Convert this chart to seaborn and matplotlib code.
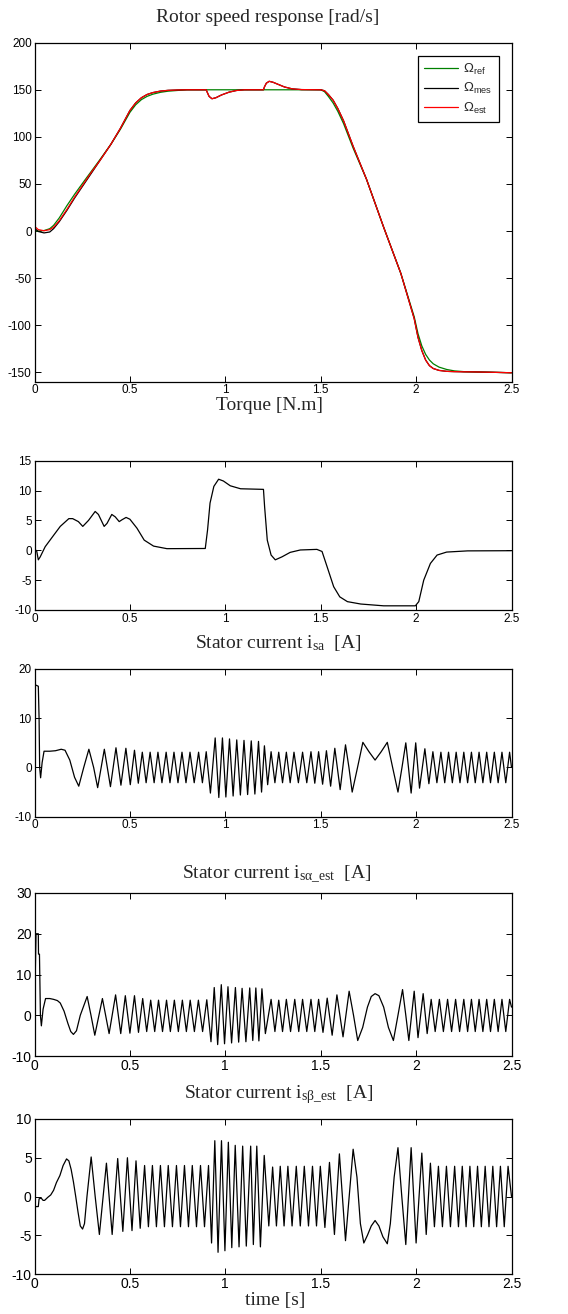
import pandas as pd
import seaborn as sns
import matplotlib.pyplot as plt
from matplotlib.ticker import FuncFormatter

# ---- panel 1 : rotor speed [rad/s] ----
t_speed = [0.0, 0.02, 0.05, 0.08, 0.1, 0.13, 0.17, 0.21, 0.26, 0.3, 0.34, 0.4, 0.45, 0.5,
           0.53, 0.56, 0.59, 0.62, 0.66, 0.7, 0.75, 0.8, 0.9, 0.905, 0.915, 0.93, 0.95, 0.98,
           1.02, 1.06, 1.1, 1.2, 1.205, 1.215, 1.23, 1.25, 1.28, 1.31, 1.35, 1.4, 1.5,
           1.52, 1.54, 1.565, 1.59, 1.62, 1.67, 1.74, 1.83, 1.92, 1.99, 2.01, 2.03, 2.05,
           2.07, 2.09, 2.12, 2.16, 2.2, 2.25, 2.3, 2.4, 2.5]
w_ref = [0, 0, 0.5, 2.5, 6, 14, 27, 39, 53, 64, 75, 92, 108, 126,
         134, 139.5, 143, 145.3, 147.3, 148.5, 149.3, 150, 150, 150, 150, 150, 150, 150,
         150, 150, 150, 150, 150, 150, 150, 150, 150, 150, 150, 150, 150,
         148, 143, 136, 127, 114, 88, 55, 4, -45, -91, -109, -122, -131,
         -137, -141, -144.5, -147, -148.5, -149.3, -149.6, -150, -150.5]
w_mes = [3, -0.5, -2, -1, 2.5, 10, 22, 35, 50, 62, 74, 92, 109, 128,
         136, 141.5, 145, 147, 148.6, 149.4, 149.8, 150, 150, 147.5, 143, 140.5, 141.5, 144.5,
         147.5, 149.3, 150, 150, 153, 157, 159, 158, 155.5, 153, 151, 150.2, 150,
         149, 145, 139, 130, 117, 90, 55, 4, -45, -93, -113, -127, -137,
         -143, -146, -148, -149, -149.3, -149.5, -149.6, -150, -150.5]
w_est = [5, 1.5, 0.3, 1.5, 4, 11, 23, 36, 51, 63, 74, 92, 109, 128,
         136, 141.5, 145, 147, 148.6, 149.4, 149.8, 150, 150, 147.5, 143, 140.5, 141.5, 144.5,
         147.5, 149.3, 150, 150, 153, 157, 159, 158, 155.5, 153, 151, 150.2, 150,
         149, 145, 139, 130, 117, 90, 55, 4, -45, -93, -113, -127, -137,
         -143, -146, -148, -149, -149.3, -149.5, -149.6, -150, -150.5]

# ---- panel 2 : torque [N.m] (t, value) ----
torque_pts = [(0, 0.3), (0.012, -0.2), (0.02, -1.6), (0.03, -1.1), (0.056, 0.6), (0.1, 2.5),
              (0.135, 4.0), (0.18, 5.3), (0.2, 5.3), (0.23, 4.8), (0.253, 4.0), (0.283, 5.0),
              (0.318, 6.5), (0.335, 6.0), (0.365, 4.0), (0.38, 4.5), (0.405, 6.0), (0.423, 5.6),
              (0.444, 4.8), (0.458, 5.1), (0.48, 5.5), (0.5, 5.2), (0.537, 3.7), (0.575, 1.7),
              (0.624, 0.7), (0.694, 0.27), (0.895, 0.3), (0.907, 3.4), (0.92, 7.9), (0.94, 10.7),
              (0.965, 11.9), (0.99, 11.6), (1.026, 10.8), (1.08, 10.3), (1.2, 10.2), (1.206, 7.3),
              (1.22, 1.7), (1.24, -0.8), (1.262, -1.6), (1.297, -1.1), (1.34, -0.35), (1.393, 0.05),
              (1.48, 0.15), (1.507, -0.2), (1.533, -2.7), (1.568, -6.1), (1.6, -7.8), (1.64, -8.6),
              (1.71, -9.0), (1.83, -9.3), (1.996, -9.3), (2.014, -8.6), (2.04, -5.0), (2.075, -2.2),
              (2.11, -0.8), (2.16, -0.3), (2.27, -0.1), (2.5, -0.07)]

# ---- panel 3 : stator current i_sa [A] (extrema) ----
isa_pts = [(0.0, 0.0), (0.003, 16.8), (0.020, 16.5), (0.024, 10.0), (0.027, 0.0), (0.032, -2.1),
           (0.040, 1.0), (0.050, 3.3), (0.080, 3.3), (0.110, 3.4), (0.140, 3.7), (0.160, 3.5),
           (0.185, 1.5), (0.210, -2.0), (0.232, -3.8), (0.258, 0.0), (0.285, 3.7), (0.310, 0.0),
           (0.331, -4.1), (0.366, 3.7), (0.398, -3.9), (0.427, 4.0), (0.453, -3.6), (0.479, 3.9),
           (0.502, -3.5), (0.524, 3.5), (0.544, -3.2), (0.565, 3.1), (0.585, -3.1), (0.606, 3.1),
           (0.627, -3.1), (0.647, 3.1), (0.668, -3.1), (0.690, 3.1), (0.710, -3.1), (0.731, 3.1),
           (0.752, -3.1), (0.773, 3.1), (0.794, -3.1), (0.815, 3.1), (0.837, -3.1), (0.860, 3.1),
           (0.880, -3.1), (0.900, 3.2), (0.922, -5.2), (0.947, 6.0), (0.966, -6.1), (0.985, 6.0),
           (1.003, -6.0), (1.022, 5.8), (1.041, -5.8), (1.060, 5.6), (1.079, -5.6), (1.098, 5.5),
           (1.117, -5.5), (1.136, 5.4), (1.155, -5.4), (1.174, 5.3), (1.190, -5.0), (1.205, 4.4),
           (1.222, -3.5), (1.240, 3.2), (1.260, -3.1), (1.280, 3.1), (1.300, -3.1), (1.320, 3.1),
           (1.340, -3.1), (1.360, 3.1), (1.383, -3.1), (1.405, 3.1), (1.427, -3.1), (1.449, 3.2),
           (1.469, -3.2), (1.489, 3.2), (1.510, -3.4), (1.530, 3.4), (1.552, -3.8), (1.574, 3.9),
           (1.602, -4.5), (1.630, 4.6), (1.648, 0.0), (1.665, -5.0), (1.693, 0.0), (1.721, 5.1),
           (1.753, 3.2), (1.785, 1.5), (1.817, 3.2), (1.849, 5.1), (1.877, 0.0), (1.905, -5.0),
           (1.926, 0.0), (1.946, 5.0), (1.960, 0.0), (1.974, -5.2), (1.986, 0.0), (1.998, 5.0),
           (2.018, -4.2), (2.046, 3.8), (2.067, -3.3), (2.088, 3.2), (2.109, -3.1), (2.130, 3.1),
           (2.150, -3.1), (2.170, 3.1), (2.190, -3.1), (2.210, 3.1), (2.230, -3.1), (2.250, 3.1),
           (2.270, -3.1), (2.290, 3.1), (2.310, -3.1), (2.330, 3.1), (2.350, -3.1), (2.370, 3.1),
           (2.390, -3.1), (2.410, 3.1), (2.430, -3.1), (2.450, 3.1), (2.470, -3.1), (2.490, 3.1),
           (2.500, 0.0)]

# ---- panel 4 : i_s_alpha_est [A] ----
ialpha_pts = [(0.0, 0.0), (0.008, 20.0), (0.020, 20.0), (0.021, 15.0), (0.026, 15.0), (0.031, 0.0),
              (0.036, -2.6), (0.045, 1.5), (0.058, 4.1), (0.080, 4.1), (0.100, 3.9), (0.120, 3.6),
              (0.135, 3.0), (0.155, 1.0), (0.175, -2.0), (0.190, -4.0), (0.204, -4.7), (0.220, -3.8),
              (0.240, 0.0), (0.276, 4.6), (0.296, 0.0), (0.316, -4.9), (0.356, 4.1), (0.391, -4.5),
              (0.425, 5.0), (0.452, -4.5), (0.476, 4.8), (0.500, -4.4), (0.524, 4.8), (0.545, -4.2),
              (0.567, 4.1), (0.588, -4.0), (0.609, 3.7), (0.630, -4.0), (0.650, 3.7), (0.671, -4.0),
              (0.692, 3.7), (0.712, -4.0), (0.733, 3.7), (0.754, -4.0), (0.775, 3.7), (0.796, -4.0),
              (0.816, 3.7), (0.838, -4.0), (0.859, 3.7), (0.881, -4.0), (0.903, 3.8), (0.925, -6.5),
              (0.942, 6.8), (0.960, -7.2), (0.979, 7.5), (0.996, -7.0), (1.014, 7.0), (1.033, -6.8),
              (1.053, 6.8), (1.070, -6.6), (1.088, 6.6), (1.108, -6.5), (1.128, 6.7), (1.144, -6.2),
              (1.160, 6.7), (1.176, -6.3), (1.192, 6.5), (1.210, -4.5), (1.240, 3.9), (1.260, -4.0),
              (1.280, 3.7), (1.300, -4.0), (1.320, 3.9), (1.342, -4.0), (1.364, 3.9), (1.385, -4.0),
              (1.405, 3.9), (1.427, -4.0), (1.449, 3.9), (1.469, -4.0), (1.489, 3.9), (1.512, -4.2),
              (1.534, 4.2), (1.560, -4.9), (1.585, 5.0), (1.617, -5.3), (1.649, 5.9), (1.672, 0.0),
              (1.694, -6.2), (1.720, -3.0), (1.745, 2.0), (1.765, 4.6), (1.785, 5.3), (1.805, 4.8),
              (1.830, 2.0), (1.855, -3.0), (1.881, -6.2), (1.905, 0.0), (1.929, 6.3), (1.946, 0.0),
              (1.962, -6.2), (1.990, 5.9), (2.010, -5.5), (2.037, 5.3), (2.058, -4.5), (2.079, 3.9),
              (2.100, -4.0), (2.122, 3.9), (2.143, -4.0), (2.165, 3.9), (2.186, -4.0), (2.207, 3.9),
              (2.228, -4.0), (2.250, 3.9), (2.270, -4.0), (2.290, 3.9), (2.310, -4.0), (2.330, 3.9),
              (2.350, -4.0), (2.370, 3.9), (2.390, -4.0), (2.410, 3.9), (2.430, -4.0), (2.450, 3.9),
              (2.470, -4.0), (2.490, 3.9), (2.500, 2.0)]

# ---- panel 5 : i_s_beta_est [A] ----
ibeta_pts = [(0.0, 0.0), (0.004, -1.3), (0.020, -1.3), (0.024, -0.3), (0.035, -0.2), (0.045, -0.5),
             (0.053, -0.5), (0.070, -0.1), (0.085, 0.2), (0.100, 0.8), (0.115, 1.8), (0.133, 2.7),
             (0.150, 4.0), (0.168, 4.85), (0.180, 4.6), (0.192, 3.5), (0.204, 1.9), (0.216, 0.0),
             (0.228, -2.0), (0.240, -3.8), (0.252, -4.2), (0.262, -3.5), (0.275, 0.0), (0.297, 5.1),
             (0.318, 0.0), (0.340, -4.9), (0.377, 4.3), (0.407, -4.9), (0.436, 4.9), (0.463, -4.5),
             (0.487, 5.0), (0.511, -4.4), (0.532, 4.6), (0.554, -4.1), (0.577, 4.0), (0.597, -3.9),
             (0.618, 4.0), (0.639, -3.9), (0.660, 4.0), (0.681, -3.9), (0.701, 4.0), (0.723, -3.9),
             (0.744, 4.0), (0.765, -3.9), (0.786, 4.0), (0.807, -3.9), (0.827, 4.0), (0.849, -3.9),
             (0.870, 4.0), (0.891, -3.9), (0.912, 4.0), (0.928, -6.0), (0.945, 7.2), (0.962, -7.2),
             (0.980, 7.2), (0.998, -7.0), (1.016, 7.0), (1.034, -6.6), (1.052, 6.6), (1.072, -6.5),
             (1.091, 6.5), (1.110, -6.4), (1.133, 6.5), (1.147, -6.2), (1.165, 6.5), (1.184, -6.5),
             (1.204, 5.3), (1.228, -3.8), (1.248, 3.8), (1.268, -3.8), (1.288, 3.9), (1.308, -3.8),
             (1.328, 3.9), (1.350, -3.8), (1.372, 3.9), (1.393, -3.8), (1.414, 3.9), (1.436, -3.8),
             (1.457, 3.9), (1.478, -3.8), (1.498, 3.9), (1.522, -4.0), (1.546, 4.4), (1.572, -4.9),
             (1.598, 5.5), (1.630, -5.7), (1.670, 6.1), (1.690, 2.5), (1.708, -3.5), (1.726, -6.0),
             (1.745, -5.0), (1.765, -3.8), (1.785, -3.1), (1.805, -3.8), (1.826, -5.2), (1.849, -6.1),
             (1.865, -3.5), (1.885, 2.5), (1.905, 6.3), (1.925, 0.0), (1.946, -6.2), (1.974, 6.3),
             (2.000, -6.0), (2.030, 5.6), (2.053, -4.9), (2.075, 4.3), (2.096, -3.9), (2.117, 3.9),
             (2.138, -3.9), (2.159, 3.9), (2.180, -3.9), (2.202, 3.9), (2.222, -3.9), (2.242, 3.9),
             (2.262, -3.9), (2.282, 3.9), (2.302, -3.9), (2.322, 3.9), (2.342, -3.9), (2.362, 3.9),
             (2.382, -3.9), (2.402, 3.9), (2.422, -3.9), (2.442, 3.9), (2.462, -3.9), (2.482, 3.9),
             (2.500, 0.0)]

x_ticks = [0, 0.5, 1, 1.5, 2, 2.5]

sns.set_theme(style="ticks")
plt.rcParams['font.family'] = ['Liberation Sans', 'DejaVu Sans']

W, H = 568, 1314
fig = plt.figure(figsize=(W / 100, H / 100), dpi=100)
fmt = FuncFormatter(lambda v, p: '%g' % v)


def make_ax(top, bottom, ylim, yticks, fs):
    ax = fig.add_axes([34.5 / W, 1 - bottom / H, 477 / W, (bottom - top) / H])
    ax.set_xlim(0, 2.5)
    ax.set_ylim(*ylim)
    ax.set_xticks(x_ticks)
    ax.set_yticks(yticks)
    ax.xaxis.set_major_formatter(fmt)
    ax.yaxis.set_major_formatter(fmt)
    ax.tick_params(direction='in', top=True, right=True, length=4, width=0.7,
                   labelsize=fs, colors='black', pad=2)
    for s in ax.spines.values():
        s.set_linewidth(0.9)
        s.set_color('black')
    return ax


def serif_text(x, y, s, size):
    fig.text(x / W, 1 - y / H, s, ha='center', va='center', fontsize=size,
             family=['Liberation Serif', 'DejaVu Serif'])


# panel 1
ax1 = make_ax(42.7, 381.7, (-160, 200), list(range(-150, 201, 50)), 8.5)
sns.lineplot(x=t_speed, y=w_ref, ax=ax1, color='#008000', lw=0.9, label=r'$\mathregular{Ω_{ref}}$')
sns.lineplot(x=t_speed, y=w_mes, ax=ax1, color='black', lw=0.9, label=r'$\mathregular{Ω_{mes}}$')
sns.lineplot(x=t_speed, y=w_est, ax=ax1, color='#ff0000', lw=0.9, label=r'$\mathregular{Ω_{est}}$')
leg = ax1.legend(loc='upper right', bbox_to_anchor=(1 - 13 / 477, 1 - 13 / 339), fontsize=9.5,
                 frameon=True, fancybox=False, framealpha=1, edgecolor='black', borderaxespad=0,
                 handlelength=2.6, borderpad=0.45, labelspacing=0.35, handletextpad=0.4)
leg.get_frame().set_linewidth(0.9)
ax1.set_xlabel('')
ax1.set_ylabel('')


def draw(ax, pts):
    df = pd.DataFrame(pts, columns=['t', 'v'])
    sns.lineplot(data=df, x='t', y='v', ax=ax, color='black', lw=0.9, estimator=None, sort=False)
    ax.set_xlabel('')
    ax.set_ylabel('')


ax2 = make_ax(460.7, 610, (-10, 15), [-10, -5, 0, 5, 10, 15], 8.5)
draw(ax2, torque_pts)
ax3 = make_ax(669, 816.7, (-10, 20), [-10, 0, 10, 20], 8.5)
draw(ax3, isa_pts)
ax4 = make_ax(893, 1056, (-10, 30), [-10, 0, 10, 20, 30], 10)
draw(ax4, ialpha_pts)
ax5 = make_ax(1119, 1274, (-10, 10), [-10, -5, 0, 5, 10], 10)
draw(ax5, ibeta_pts)

serif_text(268, 17, 'Rotor speed response [rad/s]', 14)
serif_text(269, 405, 'Torque [N.m]', 14)
serif_text(278, 643, r'Stator current $\mathregular{i_{sa}}$  [A]', 14)
serif_text(277, 875, r'Stator current $\mathregular{i_{sα\_est}}$  [A]', 14)
serif_text(279, 1095, r'Stator current $\mathregular{i_{sβ\_est}}$  [A]', 14)
serif_text(275, 1300, 'time [s]', 14)

fig.savefig('out.png', dpi=100)
